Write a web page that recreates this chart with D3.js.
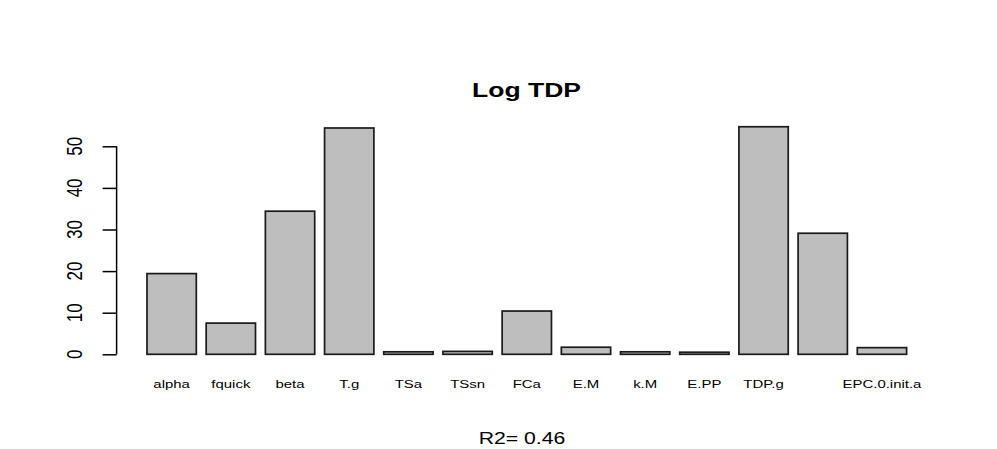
<!DOCTYPE html>
<html>
<head>
<meta charset="utf-8">
<script src="https://cdn.jsdelivr.net/npm/d3@7"></script>
<style>
  body { margin: 0; background: #fff; }
  svg text { font-family: "Liberation Sans", Arial, Helvetica, sans-serif; }
</style>
</head>
<body>
<svg id="chart" width="997" height="449"></svg>
<script>
// ---- data ----
const categories = ["alpha", "fquick", "beta", "T.g", "TSa", "TSsn", "FCa", "E.M", "k.M", "E.PP", "TDP.g", "", "EPC.0.init.a"];
const values = [19.4, 7.5, 34.4, 54.4, 0.6, 0.7, 10.4, 1.7, 0.6, 0.5, 54.7, 29.1, 1.6];
const yTicks = [0, 10, 20, 30, 40, 50];
const titleText = "Log TDP";
const subText = "R2= 0.46";

// ---- layout ----
const svg = d3.select("#chart");
const K = 1.34; // horizontal stretch of the rendered text
const barW = 1, space = 0.2;
const n = values.length;
const xmin = space, xmax = n * (barW + space);
const ext = 0.04 * (xmax - xmin);
const x = d3.scaleLinear().domain([xmin - ext, xmax + ext]).range([116.6, 937]);
const y = d3.scaleLinear().domain([0, 50]).range([354.3, 146.3]);

function stretchedText(g, tx, ty, str, size, opts = {}) {
  const t = g.append("text")
    .attr("transform", `translate(${tx},${ty}) scale(${opts.k || K},1)` + (opts.rotate ? ` rotate(${opts.rotate})` : ""))
    .attr("text-anchor", "middle")
    .attr("font-size", size)
    .attr("fill", "#000")
    .text(str);
  if (opts.bold) t.attr("font-weight", "bold");
  return t;
}

// bars
svg.append("g").selectAll("rect")
  .data(values)
  .join("rect")
  .attr("x", (d, i) => x(space + i * (barW + space)))
  .attr("width", (d, i) => x(space + i * (barW + space) + barW) - x(space + i * (barW + space)))
  .attr("y", d => y(d))
  .attr("height", d => y(0) - y(d))
  .attr("fill", "#bebebe")
  .attr("stroke", "#1a1a1a")
  .attr("stroke-width", 1.7);

// y axis
const axisG = svg.append("g").attr("transform", `translate(${x.range()[0]},0)`);
const yAxis = d3.axisLeft(y).tickValues(yTicks).tickSize(14).tickFormat("");
axisG.call(yAxis);
axisG.select(".domain").attr("d", `M0,${y(0)}V${y(50)}`).attr("stroke", "#000").attr("stroke-width", 1.5);
axisG.selectAll(".tick line").attr("stroke", "#000").attr("stroke-width", 1.5);

const labG = svg.append("g");
yTicks.forEach(v => {
  stretchedText(labG, 82, y(v), String(v), 17, { rotate: -90, k: 1.3 });
});

// category labels
categories.forEach((c, i) => {
  if (!c) return;
  const cx = x(space + i * (barW + space) + barW / 2);
  stretchedText(labG, cx, 388, c, 11.5, { k: 1.3 });
});

// title and subtitle
stretchedText(labG, 526.5, 96.7, titleText, 19.8, { bold: true });
stretchedText(labG, 522, 444, subText, 15.8);
</script>
</body>
</html>
